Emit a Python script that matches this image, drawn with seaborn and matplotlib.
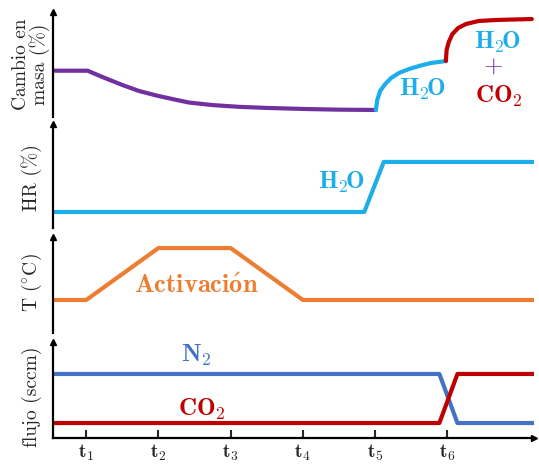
import pandas as pd
import seaborn as sns
import matplotlib.pyplot as plt

sns.set_style("white")
plt.rcParams['font.family'] = ['cmr10', 'DejaVu Serif']
plt.rcParams['mathtext.fontset'] = 'cm'
plt.rcParams['axes.unicode_minus'] = False

# ---- data (arbitrary units, time in units of t_i) ----
masa_purple_t = [0.54, 1.02, 1.11, 1.27, 1.50, 1.73, 1.97, 2.22, 2.42, 2.74, 3.11, 3.52,
                 4.04, 4.49, 5.01]
masa_purple_y = [4.41, 4.41, 4.14, 3.68, 3.05, 2.48, 2.05, 1.67, 1.38, 1.14, 0.97, 0.86,
                 0.76, 0.70, 0.67]
masa_h2o_t = [5.01, 5.03, 5.07, 5.14, 5.22, 5.33, 5.47, 5.61, 5.77, 5.98]
masa_h2o_y = [0.67, 1.62, 2.48, 3.14, 3.71, 4.19, 4.57, 4.86, 5.14, 5.33]
masa_co2_t = [5.98, 5.99, 6.02, 6.07, 6.15, 6.26, 6.43, 6.67, 7.17]
masa_co2_y = [5.33, 6.38, 7.14, 7.90, 8.48, 8.86, 9.14, 9.24, 9.33]

hr_t = [0.54, 4.85, 5.12, 7.2]
hr_y = [1.54, 1.54, 6.35, 6.35]

temp_t = [0.54, 1.0, 2.0, 3.0, 4.0, 7.2]
temp_y = [3.44, 3.44, 8.85, 8.85, 3.44, 3.44]

flujo_t = [0.54, 5.89, 6.14, 7.2]
n2_y = [6.67, 6.67, 1.56, 1.56]
co2_y = [1.56, 1.56, 6.67, 6.67]

ticks = [1, 2, 3, 4, 5, 6]
tick_labels = [r'$\mathbf{t_{%d}}$' % i for i in ticks]

purple = '#7030A0'
cyan = '#1DAEEA'
orange = '#ED7D31'
blue = '#4472C4'
red = '#C00000'

fig = plt.figure(figsize=(5.39, 4.75), dpi=100)
W, H = 539, 475
left, right = 53, 534
x0, x1 = 0.54, 7.2


def make_ax(top, bottom):
    ax = fig.add_axes([left / W, 1 - bottom / H, (right - left) / W, (bottom - top) / H])
    ax.set_xlim(x0, x1)
    ax.set_ylim(0, 10)
    for s in ['top', 'right', 'bottom']:
        ax.spines[s].set_visible(False)
    ax.spines['left'].set_linewidth(1.6)
    ax.spines['left'].set_color('black')
    ax.set_yticks([])
    ax.set_xticks([])
    ax.set_xlabel('')
    ax.set_ylabel('')
    ax.plot(x0, 10, marker='^', color='black', markersize=5, clip_on=False)
    return ax


lw = 3.0
kw = dict(sort=False, estimator=None, legend=False, linewidth=lw)
fs = 18
h2o = r'$\mathbf{H_2\!O}$'
co2 = r'$\mathbf{CO_2}$'

# panel 1: mass change
ax1 = make_ax(12, 117)
sns.lineplot(x=masa_purple_t, y=masa_purple_y, color=purple, ax=ax1, **kw)
sns.lineplot(x=masa_h2o_t, y=masa_h2o_y, color=cyan, ax=ax1, **kw)
sns.lineplot(x=masa_co2_t, y=masa_co2_y, color=red, ax=ax1, **kw)
ax1.text(5.66, 2.6, h2o, color=cyan, fontsize=fs, ha='center', va='center')
ax1.text(6.69, 7.14, h2o, color=cyan, fontsize=fs, ha='center', va='center')
ax1.text(6.63, 4.67, '+', color=purple, fontsize=fs, ha='center', va='center')
ax1.text(6.71, 2.0, co2, color=red, fontsize=fs, ha='center', va='center')

# panel 2: humidity
ax2 = make_ax(124, 228)
sns.lineplot(x=hr_t, y=hr_y, color=cyan, ax=ax2, **kw)
ax2.text(4.53, 4.4, h2o, color=cyan, fontsize=fs, ha='center', va='center')

# panel 3: temperature
ax3 = make_ax(237, 333)
sns.lineplot(x=temp_t, y=temp_y, color=orange, ax=ax3, **kw)
ax3.text(2.52, 4.9, r'$\mathbf{Activaci\acute{o}n}$', color=orange, fontsize=19,
         ha='center', va='center')

# panel 4: flow
ax4 = make_ax(342, 438)
sns.lineplot(x=flujo_t, y=n2_y, color=blue, ax=ax4, **kw)
sns.lineplot(x=flujo_t, y=co2_y, color=red, ax=ax4, **kw)
ax4.text(2.52, 8.65, r'$\mathbf{N_2}$', color=blue, fontsize=fs, ha='center', va='center')
ax4.text(2.6, 3.0, co2, color=red, fontsize=fs, ha='center', va='center')
ax4.spines['bottom'].set_visible(True)
ax4.spines['bottom'].set_linewidth(1.6)
ax4.spines['bottom'].set_color('black')
ax4.plot(x1, 0, marker='>', color='black', markersize=5, clip_on=False)
ax4.set_xticks(ticks)
ax4.set_xticklabels(tick_labels, fontsize=14)
ax4.tick_params(axis='x', direction='in', length=6, width=1.5, pad=3, bottom=True)
ax4.set_xlabel(r'$\mathbf{tiempo\ (s)}$', fontsize=16, labelpad=2)

# y labels
fig.text(31 / W, 1 - 64 / H, 'Cambio en\nmasa (%)', rotation=90, ha='center', va='center',
         fontsize=14, linespacing=1.0)
fig.text(32 / W, 1 - 178 / H, 'HR (%)', rotation=90, ha='center', va='center', fontsize=14)
fig.text(32 / W, 1 - 283 / H, r'T ($^{\circ}$C)', rotation=90, ha='center', va='center',
         fontsize=14)
fig.text(32 / W, 1 - 397 / H, 'flujo (sccm)', rotation=90, ha='center', va='center', fontsize=14)

fig.savefig('out.png', dpi=100)
